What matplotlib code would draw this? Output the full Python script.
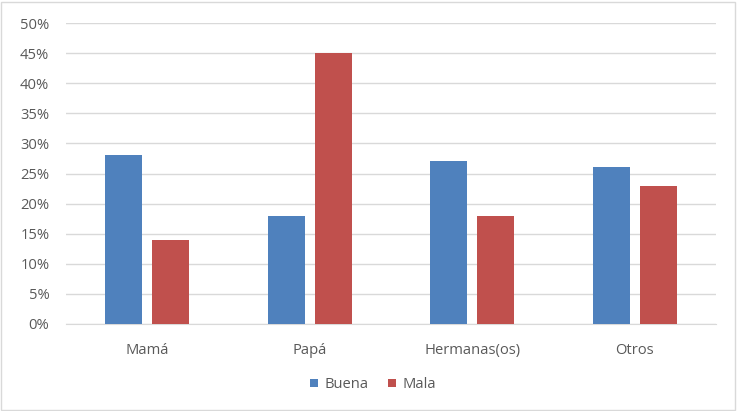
import matplotlib.pyplot as plt
import numpy as np
from matplotlib.patches import Rectangle

# Data
categorias = ['Mamá', 'Papá', 'Hermanas(os)', 'Otros']
buena = [28, 18, 27, 26]
mala = [14, 45, 18, 23]

plt.rcParams['font.family'] = ['Open Sans', 'DejaVu Sans']

fig = plt.figure(figsize=(7.37, 4.11), dpi=100)
ax = fig.add_axes([0.0896, 0.2117, 0.8819, 0.7323])

x = np.arange(len(categorias))
w = 0.228
ax.bar(x - 0.145, buena, w, color='#4F81BD', label='Buena', zorder=3)
ax.bar(x + 0.145, mala, w, color='#C0504D', label='Mala', zorder=3)

ax.set_xlim(-0.5, 3.5)
ax.set_ylim(0, 50)
ax.set_yticks(np.arange(0, 51, 5))
ax.set_yticklabels([f'{v}%' for v in range(0, 51, 5)])
ax.set_xticks(x)
ax.set_xticklabels(categorias)
ax.grid(axis='y', color='#D9D9D9', linewidth=1, zorder=0)
for s in ['top', 'right', 'left']:
    ax.spines[s].set_visible(False)
ax.spines['bottom'].set_color('#D9D9D9')
ax.tick_params(axis='both', length=0, colors='#595959', labelsize=10.6)
ax.tick_params(axis='x', pad=14)
ax.tick_params(axis='y', pad=12)

fig.legend(loc='center', bbox_to_anchor=(0.506, 0.064), ncol=2, frameon=False,
           fontsize=10.6, handlelength=0.55, handleheight=0.55, handletextpad=0.4,
           columnspacing=1.35, labelcolor='#595959')

# border around the chart
fig.patches.append(Rectangle((0.002, 0.003), 0.995, 0.993, transform=fig.transFigure,
                             fill=False, edgecolor='#D9D9D9', linewidth=1))

fig.savefig('out.png', dpi=100)
